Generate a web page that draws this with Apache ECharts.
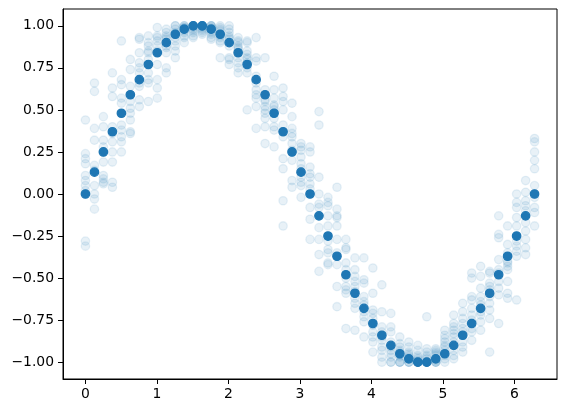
<!DOCTYPE html>
<html>
<head>
<meta charset="utf-8">
<script src="https://cdn.jsdelivr.net/npm/echarts@6/dist/echarts.min.js"></script>
<style>
  html, body { margin: 0; padding: 0; background: #fff; }
  #chart { width: 568px; height: 413px; }
</style>
</head>
<body>
<div id="chart"></div>
<script>
// x positions of the samples
const xValues = [0, 0.126, 0.251, 0.377, 0.503, 0.628, 0.754, 0.880, 1.005, 1.131,
  1.257, 1.382, 1.508, 1.634, 1.759, 1.885, 2.011, 2.136, 2.262, 2.388,
  2.513, 2.639, 2.765, 2.890, 3.016, 3.142, 3.267, 3.393, 3.519, 3.644,
  3.770, 3.896, 4.021, 4.147, 4.273, 4.398, 4.524, 4.650, 4.775, 4.901,
  5.027, 5.152, 5.278, 5.404, 5.529, 5.655, 5.781, 5.906, 6.032, 6.158, 6.283];

// solid points
const cleanValues = [0, 0.13, 0.25, 0.37, 0.48, 0.59, 0.68, 0.77, 0.84, 0.90,
  0.95, 0.98, 1.00, 1.00, 0.98, 0.95, 0.90, 0.84, 0.77, 0.68,
  0.59, 0.48, 0.37, 0.25, 0.13, 0.00, -0.13, -0.25, -0.37, -0.48,
  -0.59, -0.68, -0.77, -0.84, -0.90, -0.95, -0.98, -1.00, -1.00, -0.98,
  -0.95, -0.90, -0.84, -0.77, -0.68, -0.59, -0.48, -0.37, -0.25, -0.13, 0.00];

// faded points, one list per x position
const noisyValues = [
  [0.44, 0.24, 0.21, 0.18, 0.11, 0.08, 0.05, 0.02, -0.28, -0.31],
  [0.66, 0.61, 0.39, 0.32, 0.17, 0.05, 0.0, -0.03, -0.09, 0.14],
  [0.46, 0.40, 0.32, 0.25, 0.19, 0.11, 0.09, 0.07, 0.06, 0.28],
  [0.72, 0.63, 0.58, 0.40, 0.31, 0.25, 0.19, 0.07, 0.04, 0.36],
  [0.91, 0.68, 0.65, 0.57, 0.54, 0.41, 0.38, 0.34, 0.31, 0.25],
  [0.80, 0.74, 0.64, 0.55, 0.51, 0.48, 0.44, 0.37, 0.36, 0.59],
  [0.93, 0.92, 0.84, 0.78, 0.75, 0.72, 0.66, 0.64, 0.56, 0.52],
  [0.94, 0.90, 0.88, 0.85, 0.84, 0.72, 0.68, 0.66, 0.55, 0.80],
  [0.99, 0.94, 0.93, 0.91, 0.88, 0.85, 0.77, 0.68, 0.63, 0.57],
  [0.98, 0.96, 0.94, 0.93, 0.92, 0.88, 0.87, 0.84, 0.75, 0.72],
  [1.0, 1.0, 0.98, 0.96, 0.95, 0.93, 0.91, 0.88, 0.85, 0.81],
  [1.0, 1.0, 0.99, 0.98, 0.97, 0.96, 0.94, 0.93, 0.90, 0.99],
  [1.0, 1.0, 1.0, 1.0, 0.99, 0.98, 0.97, 0.96, 0.94, 0.93],
  [1.0, 1.0, 1.0, 1.0, 1.0, 0.99, 0.98, 0.97, 0.96, 0.95],
  [1.0, 1.0, 1.0, 0.99, 0.98, 0.97, 0.96, 0.95, 0.93, 0.92],
  [1.0, 0.99, 0.98, 0.97, 0.95, 0.94, 0.93, 0.91, 0.90, 0.81],
  [1.0, 0.98, 0.96, 0.94, 0.93, 0.92, 0.88, 0.81, 0.80, 0.77],
  [0.93, 0.91, 0.90, 0.88, 0.87, 0.81, 0.78, 0.75, 0.72, 0.86],
  [0.91, 0.90, 0.85, 0.83, 0.81, 0.80, 0.75, 0.72, 0.50, 0.78],
  [0.93, 0.81, 0.79, 0.62, 0.59, 0.57, 0.52, 0.39, 0.70, 0.66],
  [0.81, 0.62, 0.56, 0.52, 0.50, 0.48, 0.40, 0.30, 0.55, 0.45],
  [0.70, 0.62, 0.57, 0.53, 0.50, 0.45, 0.40, 0.38, 0.28, 0.52],
  [0.63, 0.58, 0.55, 0.50, 0.41, 0.34, 0.21, 0.15, -0.04, -0.19],
  [0.54, 0.46, 0.39, 0.36, 0.34, 0.30, 0.20, 0.08, 0.04, 0.26],
  [0.30, 0.28, 0.26, 0.22, 0.18, 0.10, 0.07, 0.05, -0.02, 0.15],
  [0.28, 0.25, 0.16, 0.10, 0.06, 0.03, -0.08, -0.15, -0.27, 0.12],
  [0.49, 0.41, 0.10, 0.0, -0.06, -0.08, -0.20, -0.27, -0.36, -0.46],
  [-0.02, -0.05, -0.07, -0.13, -0.19, -0.28, -0.33, -0.35, -0.41, -0.42],
  [0.04, -0.09, -0.13, -0.14, -0.19, -0.27, -0.35, -0.42, -0.55, -0.67],
  [-0.27, -0.32, -0.33, -0.41, -0.45, -0.55, -0.57, -0.59, -0.80, -0.50],
  [-0.38, -0.45, -0.49, -0.52, -0.55, -0.62, -0.65, -0.68, -0.81, -0.58],
  [-0.38, -0.51, -0.53, -0.61, -0.66, -0.70, -0.73, -0.76, -0.85, -0.64],
  [-0.44, -0.59, -0.69, -0.71, -0.74, -0.82, -0.85, -0.88, -0.94, -0.78],
  [-0.54, -0.70, -0.79, -0.82, -0.87, -0.91, -0.93, -0.97, -1.0, -0.85],
  [-0.71, -0.79, -0.82, -0.88, -0.91, -0.95, -0.97, -1.0, -1.0, -0.93],
  [-0.85, -0.89, -0.91, -0.93, -0.94, -0.96, -0.97, -1.0, -1.0, -1.0],
  [-0.88, -0.91, -0.94, -0.96, -0.97, -0.98, -1.0, -1.0, -1.0, -0.95],
  [-0.90, -0.93, -0.96, -0.97, -0.99, -1.0, -1.0, -1.0, -1.0, -0.98],
  [-0.73, -0.92, -0.94, -0.96, -0.98, -1.0, -1.0, -1.0, -1.0, -0.97],
  [-0.92, -0.94, -0.95, -0.96, -0.98, -0.99, -1.0, -1.0, -1.0, -0.93],
  [-0.81, -0.84, -0.86, -0.88, -0.91, -0.93, -0.96, -0.98, -1.0, -0.90],
  [-0.72, -0.77, -0.79, -0.81, -0.85, -0.88, -0.93, -0.96, -0.98, -0.83],
  [-0.65, -0.70, -0.77, -0.80, -0.84, -0.88, -0.91, -0.94, -0.74, -0.82],
  [-0.47, -0.50, -0.61, -0.63, -0.68, -0.75, -0.82, -0.87, -0.72, -0.80],
  [-0.43, -0.49, -0.56, -0.61, -0.64, -0.72, -0.76, -0.81, -0.66, -0.70],
  [-0.46, -0.47, -0.53, -0.61, -0.65, -0.69, -0.74, -0.94, -0.57, -0.55],
  [-0.13, -0.24, -0.26, -0.39, -0.45, -0.47, -0.52, -0.56, -0.60, -0.77],
  [-0.19, -0.30, -0.35, -0.41, -0.43, -0.45, -0.52, -0.59, -0.62, -0.40],
  [0.0, -0.05, -0.08, -0.14, -0.19, -0.31, -0.34, -0.37, -0.63, -0.28],
  [0.08, 0.01, -0.04, -0.07, -0.10, -0.17, -0.22, -0.27, -0.32, -0.36],
  [0.33, 0.31, 0.25, 0.20, 0.15, 0.05, -0.02, -0.08, -0.11, -0.19]
];

const xTicks = [0, 1, 2, 3, 4, 5, 6];
const yTicks = [-1, -0.75, -0.5, -0.25, 0, 0.25, 0.5, 0.75, 1];

const blue = '#1f77b4';
const font = 'DejaVu Sans';

const noisyData = [];
noisyValues.forEach((col, i) => {
  col.forEach(v => noisyData.push([xValues[i], v]));
});
const cleanData = xValues.map((x, i) => [x, cleanValues[i]]);

const chart = echarts.init(document.getElementById('chart'), null, { renderer: 'canvas' });

const axisCommon = {
  type: 'value',
  scale: true,
  splitLine: { show: false },
  axisLine: { show: true, onZero: false, lineStyle: { color: '#000', width: 1 } },
  axisTick: { show: true, inside: false, length: 5, lineStyle: { color: '#000', width: 1 } }
};

chart.setOption({
  animation: false,
  grid: {
    left: 63, right: 11, top: 9, bottom: 34,
    show: true, borderColor: '#000', borderWidth: 1, backgroundColor: 'transparent'
  },
  xAxis: Object.assign({}, axisCommon, {
    min: -0.314, max: 6.597,
    axisTick: Object.assign({}, axisCommon.axisTick, { customValues: xTicks }),
    axisLabel: {
      customValues: xTicks, margin: 8, color: '#000',
      fontFamily: font, fontSize: 13.9,
      formatter: v => String(v)
    }
  }),
  yAxis: Object.assign({}, axisCommon, {
    min: -1.1, max: 1.1,
    axisTick: Object.assign({}, axisCommon.axisTick, { customValues: yTicks }),
    axisLabel: {
      customValues: yTicks, margin: 9, color: '#000',
      fontFamily: font, fontSize: 13.9,
      formatter: v => (v < 0 ? '\u2212' : '') + Math.abs(v).toFixed(2)
    }
  }),
  series: [
    {
      type: 'scatter',
      data: noisyData,
      symbolSize: 8.4,
      itemStyle: { color: blue, borderColor: blue, borderWidth: 1.3, opacity: 0.1 },
      emphasis: { disabled: true }
    },
    {
      type: 'scatter',
      data: cleanData,
      symbolSize: 8.4,
      itemStyle: { color: blue, borderColor: blue, borderWidth: 1.3, opacity: 1 },
      emphasis: { disabled: true }
    }
  ]
});

window.addEventListener('resize', () => chart.resize());
</script>
</body>
</html>
